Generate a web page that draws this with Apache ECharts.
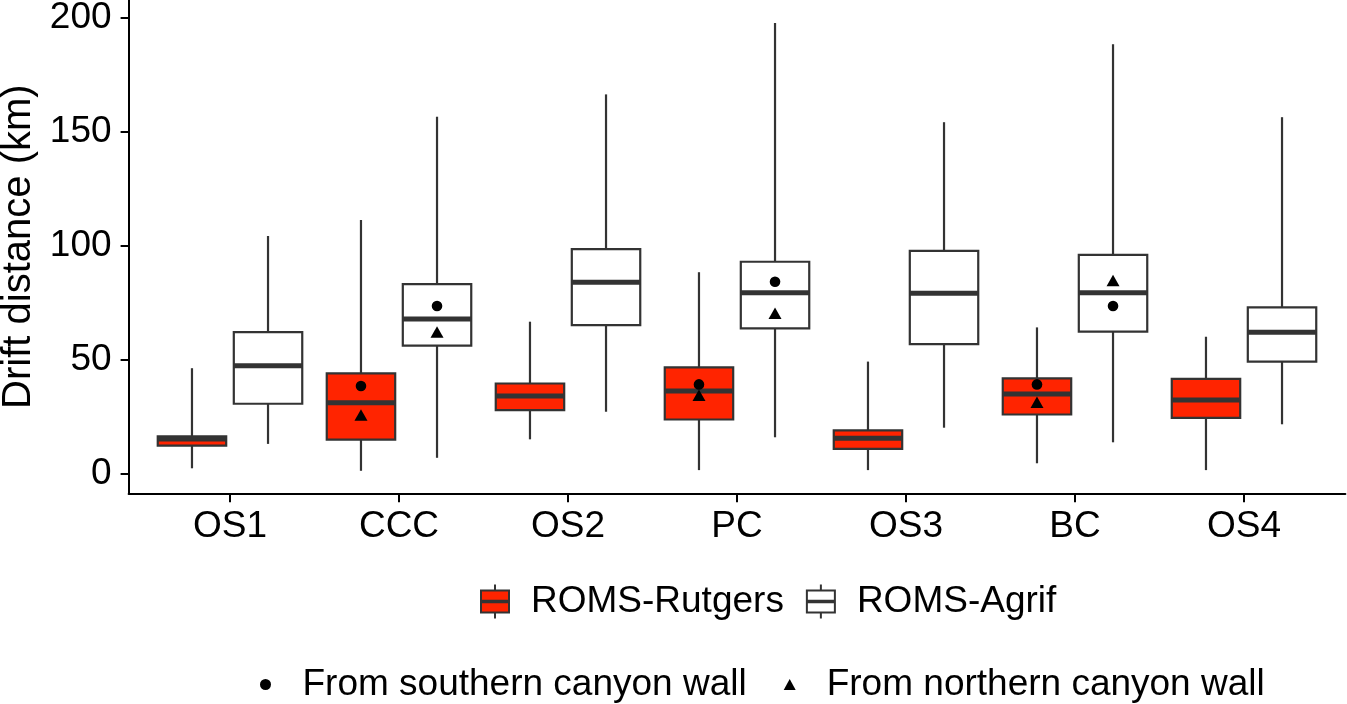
<!DOCTYPE html>
<html>
<head>
<meta charset="utf-8">
<script src="https://cdn.jsdelivr.net/npm/echarts@6/dist/echarts.min.js"></script>
<style>
html,body{margin:0;padding:0;background:#ffffff;}
#chart{width:1347px;height:704px;}
</style>
</head>
<body>
<div id="chart"></div>
<script>
// ---------------- data ----------------
const categories = ['OS1', 'CCC', 'OS2', 'PC', 'OS3', 'BC', 'OS4'];
const yTickValues = [0, 50, 100, 150, 200];
// each box: [min, Q1, median, Q3, max]
const rutgersBoxes = [
  [2.2, 12.1, 15.0, 16.2, 46.1],
  [1.1, 14.8, 31.0, 43.8, 111.1],
  [14.9, 27.7, 33.9, 39.4, 66.5],
  [1.4, 23.6, 36.1, 46.5, 88.2],
  [1.4, 10.7, 15.4, 18.8, 49.0],
  [4.4, 25.8, 34.8, 41.6, 64.0],
  [1.4, 24.3, 32.2, 41.4, 59.9]
];
const agrifBoxes = [
  [12.9, 30.5, 47.2, 61.9, 104.1],
  [6.8, 56.0, 67.7, 83.0, 156.4],
  [27.0, 65.0, 83.8, 98.3, 166.2],
  [15.8, 63.6, 79.2, 92.8, 197.5],
  [20.0, 56.7, 79.0, 97.6, 154.0],
  [13.6, 62.1, 79.2, 95.8, 188.2],
  [21.5, 49.0, 61.9, 72.8, 156.2]
];
const southernRutgers = [null, 38.3, null, 39.0, null, 39.0, null];
const southernAgrif   = [null, 73.4, null, 84.0, null, 73.4, null];
const northernRutgers = [null, 25.6, null, 34.2, null, 31.2, null];
const northernAgrif   = [null, 62.0, null, 70.2, null, 84.6, null];
const seriesNames = ['ROMS-Rutgers', 'ROMS-Agrif'];
const pointNames = ['From southern canyon wall', 'From northern canyon wall'];

// ---------------- styles ----------------
const FONT = '"Liberation Sans", Arial, Helvetica, sans-serif';
const RED = '#FF2400';
const WHITE = '#FFFFFF';
const STROKE = '#333333';
const LW = 2.2;
const MED_LW = 5;
const DODGE = 0.225;     // axis units
const BOX_HALF = 0.2025; // axis units

function boxData(boxes) {
  return boxes.map((b, i) => [i].concat(b));
}
function pointData(redVals, whiteVals) {
  const out = [];
  redVals.forEach((v, i) => { if (v !== null) out.push([i, 0, v]); });
  whiteVals.forEach((v, i) => { if (v !== null) out.push([i, 1, v]); });
  return out;
}

function boxRenderer(offset, fill) {
  return function (params, api) {
    const x = api.value(0) + offset;
    const pLo = api.coord([x, api.value(1)]);
    const pQ1 = api.coord([x, api.value(2)]);
    const pMed = api.coord([x, api.value(3)]);
    const pQ3 = api.coord([x, api.value(4)]);
    const pHi = api.coord([x, api.value(5)]);
    const hw = api.size([BOX_HALF, 0])[0];
    const cx = pMed[0];
    const ls = { stroke: STROKE, lineWidth: LW };
    return {
      type: 'group',
      children: [
        { type: 'line', shape: { x1: cx, y1: pHi[1], x2: cx, y2: pQ3[1] }, style: ls },
        { type: 'line', shape: { x1: cx, y1: pQ1[1], x2: cx, y2: pLo[1] }, style: ls },
        { type: 'rect', shape: { x: cx - hw, y: pQ3[1], width: 2 * hw, height: pQ1[1] - pQ3[1] },
          style: { fill: fill, stroke: STROKE, lineWidth: LW } },
        { type: 'line', shape: { x1: cx - hw, y1: pMed[1], x2: cx + hw, y2: pMed[1] },
          style: { stroke: STROKE, lineWidth: MED_LW } }
      ]
    };
  };
}

function pointRenderer(kind) {
  return function (params, api) {
    const grp = api.value(1);
    const x = api.value(0) + (grp === 0 ? -DODGE : DODGE);
    const p = api.coord([x, api.value(2)]);
    if (kind === 'circle') {
      return { type: 'circle', shape: { cx: p[0], cy: p[1], r: 5.3 }, style: { fill: '#000000' } };
    }
    const w = 13, h = 11.5;
    return {
      type: 'polygon',
      shape: { points: [[p[0], p[1] - h / 2], [p[0] + w / 2, p[1] + h / 2], [p[0] - w / 2, p[1] + h / 2]] },
      style: { fill: '#000000' }
    };
  };
}

const boxIcon = 'path://M15,0L15,6M1,6L29,6L29,28L1,28ZM1,16.3L29,16.3L29,17.7L1,17.7ZM15,28L15,34';

const chart = echarts.init(document.getElementById('chart'), null, { renderer: 'canvas' });
chart.setOption({
  animation: false,
  backgroundColor: '#ffffff',
  textStyle: { fontFamily: FONT, color: '#000000' },
  grid: { left: 128.6, right: 1.6, top: 0, bottom: 210.7, containLabel: false, outerBoundsMode: 'none' },
  xAxis: {
    type: 'value',
    min: -0.6,
    max: categories.length - 0.4,
    splitLine: { show: false },
    axisLine: { show: true, onZero: false, lineStyle: { color: '#000000', width: 2 } },
    axisTick: { show: true, length: 9, lineStyle: { color: '#000000', width: 2 },
      customValues: categories.map((c, i) => i) },
    axisLabel: { show: true, fontSize: 37, color: '#000000', fontFamily: FONT, margin: 15,
      customValues: categories.map((c, i) => i),
      formatter: function (v) { return categories[Math.round(v)]; } }
  },
  yAxis: {
    type: 'value',
    min: -8.77,
    max: 207.6,
    name: 'Drift distance (km)',
    nameLocation: 'middle',
    nameGap: 88,
    nameTextStyle: { fontSize: 40, color: '#000000', fontFamily: FONT },
    splitLine: { show: false },
    axisLine: { show: true, onZero: false, lineStyle: { color: '#000000', width: 2 } },
    axisTick: { show: true, length: 8, lineStyle: { color: '#000000', width: 2 }, customValues: yTickValues },
    axisLabel: { show: true, fontSize: 37, color: '#000000', fontFamily: FONT, margin: 17, customValues: yTickValues }
  },
  legend: [
    {
      data: [
        { name: seriesNames[0], icon: boxIcon, itemStyle: { color: RED, borderColor: STROKE, borderWidth: 2 } },
        { name: seriesNames[1], icon: boxIcon, itemStyle: { color: WHITE, borderColor: STROKE, borderWidth: 2 } }
      ],
      left: 480, top: 583, padding: 0, itemGap: 22,
      itemWidth: 30, itemHeight: 34,
      selectedMode: false,
      textStyle: { fontSize: 37, color: '#000000', fontFamily: FONT, padding: [0, 0, 0, 16] }
    },
    {
      data: [
        { name: pointNames[0], icon: 'circle', itemStyle: { color: '#000000' } },
        { name: pointNames[1], icon: 'triangle', itemStyle: { color: '#000000' } }
      ],
      left: 260, top: 666, padding: 0, itemGap: 37,
      itemWidth: 12, itemHeight: 11,
      selectedMode: false,
      textStyle: { fontSize: 37, color: '#000000', fontFamily: FONT, padding: [0, 0, 0, 26] }
    }
  ],
  series: [
    {
      name: seriesNames[0], type: 'custom', renderItem: boxRenderer(-DODGE, RED),
      data: boxData(rutgersBoxes), encode: { x: 0, y: [1, 2, 3, 4, 5] },
      itemStyle: { color: RED, borderColor: STROKE, borderWidth: 2 }, z: 2
    },
    {
      name: seriesNames[1], type: 'custom', renderItem: boxRenderer(DODGE, WHITE),
      data: boxData(agrifBoxes), encode: { x: 0, y: [1, 2, 3, 4, 5] },
      itemStyle: { color: WHITE, borderColor: STROKE, borderWidth: 2 }, z: 2
    },
    {
      name: pointNames[0], type: 'custom', renderItem: pointRenderer('circle'),
      data: pointData(southernRutgers, southernAgrif), encode: { x: 0, y: 2 },
      itemStyle: { color: '#000000' }, z: 3
    },
    {
      name: pointNames[1], type: 'custom', renderItem: pointRenderer('triangle'),
      data: pointData(northernRutgers, northernAgrif), encode: { x: 0, y: 2 },
      itemStyle: { color: '#000000' }, z: 3
    }
  ]
});
</script>
</body>
</html>
